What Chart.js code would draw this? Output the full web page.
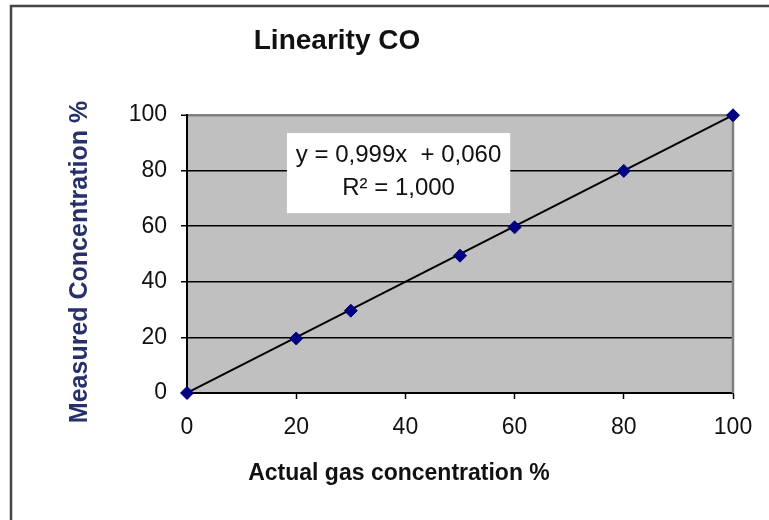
<!DOCTYPE html>
<html lang="en">

<head>
    <meta charset="UTF-8">
    <title>Linearity CO</title>
    <style>
        body { margin: 0; background: #fff; }
        canvas { display: block; }
    </style>
</head>

<body>
    <canvas id="myChart" width="769" height="520"></canvas>

    <script src="https://cdn.jsdelivr.net/npm/chart.js"></script>

    <script>
        // data
        const actual = [0, 20, 30, 50, 60, 80, 100]
        const measured = [0, 19.6, 29.6, 49.4, 59.6, 79.9, 99.9]
        const tickValues = [0, 20, 40, 60, 80, 100]
        const slope = 0.999
        const intercept = 0.060
        const rSquared = 1.000

        const FONT = "'Liberation Sans', Arial, Helvetica, sans-serif"
        const fmt = v => v.toFixed(3).replace('.', ',')

        const points = actual.map((x, i) => ({ x: x, y: measured[i] }))
        const trend = [0, 100].map(x => ({ x: x, y: slope * x + intercept }))

        // background, frame, equation box and titles
        const decor = {
            id: 'decor',
            beforeDraw(chart) {
                const { ctx, chartArea: a } = chart
                ctx.save()
                ctx.fillStyle = '#fff'
                ctx.fillRect(0, 0, chart.width, chart.height)
                ctx.fillStyle = '#c0c0c0'
                ctx.fillRect(a.left, a.top, a.right - a.left, a.bottom - a.top)
                // outer frame (only top and left visible)
                ctx.strokeStyle = '#444'
                ctx.lineWidth = 2.5
                ctx.beginPath()
                ctx.moveTo(11, chart.height)
                ctx.lineTo(11, 6)
                ctx.lineTo(chart.width, 6)
                ctx.stroke()
                ctx.restore()
            },
            beforeDatasetsDraw(chart) {
                const { ctx, chartArea: a, scales } = chart
                ctx.save()
                ctx.strokeStyle = '#808080'
                ctx.lineWidth = 2.5
                ctx.beginPath()
                ctx.moveTo(a.right, a.top)
                ctx.lineTo(a.right, a.bottom)
                ctx.stroke()

                // regression label
                const x0 = scales.x.getPixelForValue(18.3)
                const x1 = scales.x.getPixelForValue(59.2)
                const y0 = scales.y.getPixelForValue(93.5)
                const y1 = scales.y.getPixelForValue(64.7)
                ctx.fillStyle = '#fff'
                ctx.fillRect(x0, y0, x1 - x0, y1 - y0)
                ctx.fillStyle = '#111'
                ctx.font = '24px ' + FONT
                ctx.textAlign = 'center'
                ctx.textBaseline = 'alphabetic'
                const cx = (x0 + x1) / 2
                ctx.fillText('y = ' + fmt(slope) + 'x  + ' + fmt(intercept), cx, y0 + 29)
                ctx.fillText('R\u00b2 = ' + fmt(rSquared), cx, y0 + 62)
                ctx.restore()
            },
            afterDraw(chart) {
                const { ctx } = chart
                ctx.save()
                ctx.fillStyle = '#111'
                ctx.textAlign = 'center'
                ctx.textBaseline = 'alphabetic'
                ctx.font = 'bold 28px ' + FONT
                ctx.fillText('Linearity CO', 337, 49)
                ctx.font = 'bold 23px ' + FONT
                ctx.fillText('Actual gas concentration %', 399, 480)
                ctx.translate(87, 262)
                ctx.rotate(-Math.PI / 2)
                ctx.fillStyle = '#27306a'
                ctx.font = 'bold 25px ' + FONT
                ctx.fillText('Measured Concentration %', 0, 0)
                ctx.restore()
            }
        }

        const ctx = document.getElementById('myChart')

        const chart = new Chart(ctx, {
            type: 'scatter',
            data: {
                datasets: [{
                    label: 'Measured',
                    data: points,
                    showLine: false,
                    pointStyle: 'rectRot',
                    pointRadius: 6.5,
                    backgroundColor: '#000080',
                    borderColor: '#000080',
                    borderWidth: 1,
                    clip: false
                }, {
                    label: 'Trend',
                    data: trend,
                    showLine: true,
                    pointRadius: 0,
                    borderColor: '#000',
                    borderWidth: 2,
                    clip: false
                }]
            },
            options: {
                responsive: false,
                animation: false,
                devicePixelRatio: 1,
                layout: { padding: { top: 115, right: 36, left: 0, bottom: 0 } },
                plugins: {
                    legend: { display: false },
                    tooltip: { enabled: false }
                },
                scales: {
                    x: {
                        type: 'linear',
                        min: 0,
                        max: 100,
                        afterBuildTicks: s => { s.ticks = tickValues.map(v => ({ value: v })) },
                        afterFit: s => { s.height = 127 },
                        ticks: {
                            font: { family: FONT, size: 23 },
                            color: '#111',
                            padding: 15,
                            maxRotation: 0,
                            autoSkip: false
                        },
                        grid: {
                            drawOnChartArea: false,
                            tickLength: 6,
                            tickColor: '#000',
                            tickWidth: 1.5
                        },
                        border: { color: '#000', width: 2 }
                    },
                    y: {
                        min: 0,
                        max: 100,
                        afterBuildTicks: s => { s.ticks = tickValues.map(v => ({ value: v })) },
                        afterFit: s => { s.width = 187 },
                        ticks: {
                            font: { family: FONT, size: 23 },
                            color: '#111',
                            padding: 14
                        },
                        grid: {
                            color: c => c.tick && c.tick.value === 100 ? '#808080' : '#000',
                            lineWidth: c => c.tick && c.tick.value === 100 ? 2.5 : 1.5,
                            tickLength: 6,
                            tickColor: '#000',
                            tickWidth: 1.5
                        },
                        border: { color: '#000', width: 2 }
                    }
                }
            },
            plugins: [decor]
        })
    </script>

</body>

</html>
